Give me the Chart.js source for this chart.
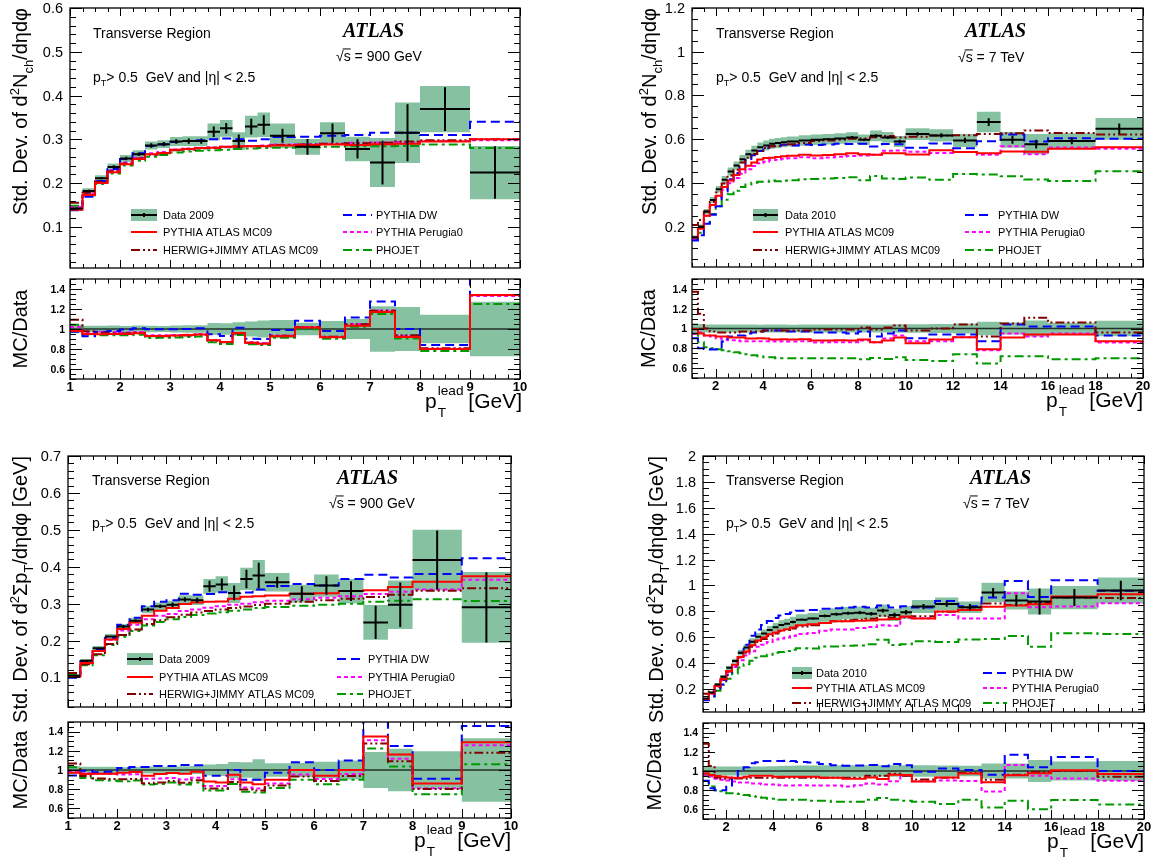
<!DOCTYPE html>
<html>
<head>
<meta charset="utf-8">
<script src="https://cdn.jsdelivr.net/npm/chart.js@4.4.0/dist/chart.umd.min.js"></script>
<style>
html, body { margin: 0; padding: 0; background: #fff; }
#wrap { position: relative; width: 1155px; height: 865px; overflow: hidden; background: #fff; }
#wrap canvas { position: absolute; left: 0; top: 0; }
</style>
</head>
<body>
<div id="wrap"></div>
<script>
// ---------- Bin edges (p_T lead, GeV) ----------
const edges900 = [1,1.25,1.5,1.75,2,2.25,2.5,2.75,3,3.25,3.5,3.75,4,4.25,4.5,4.75,5,5.5,6,6.5,7,7.5,8,9,10];
const edges7 = [1,1.25,1.5,1.75,2,2.25,2.5,2.75,3,3.25,3.5,3.75,4,4.25,4.5,4.75,5,5.5,6,6.5,7,7.5,8,8.5,9,9.5,10,11,12,13,14,15,16,18,20];

// ---------- Nch, 900 GeV (top left) ----------
const nch900Data = [0.142,0.182,0.211,0.237,0.256,0.266,0.286,0.289,0.295,0.296,0.296,0.317,0.325,0.296,0.329,0.333,0.308,0.283,0.314,0.278,0.247,0.315,0.369,0.224];
const nch900Tot = [0.006,0.006,0.007,0.008,0.008,0.009,0.009,0.009,0.01,0.011,0.011,0.019,0.019,0.02,0.025,0.028,0.028,0.018,0.025,0.028,0.056,0.069,0.053,0.061];
const nch900Stat = [0.003,0.003,0.003,0.004,0.004,0.004,0.005,0.005,0.005,0.006,0.006,0.012,0.012,0.015,0.018,0.022,0.016,0.018,0.022,0.022,0.05,0.065,0.05,0.06];
const nch900MC09 = [0.139,0.173,0.200,0.225,0.243,0.255,0.266,0.269,0.276,0.278,0.280,0.281,0.283,0.284,0.284,0.284,0.286,0.287,0.288,0.287,0.289,0.290,0.295,0.300];
const nch900Herwig = [0.155,0.178,0.203,0.227,0.245,0.256,0.265,0.268,0.275,0.277,0.279,0.280,0.282,0.283,0.284,0.285,0.287,0.288,0.290,0.291,0.292,0.295,0.298,0.300];
const nch900DW = [0.138,0.169,0.205,0.232,0.255,0.268,0.285,0.288,0.294,0.296,0.298,0.300,0.302,0.300,0.297,0.300,0.305,0.306,0.308,0.310,0.315,0.315,0.310,0.340];
const nch900Perugia0 = [0.145,0.176,0.205,0.230,0.247,0.258,0.268,0.271,0.277,0.279,0.281,0.282,0.283,0.284,0.285,0.286,0.288,0.289,0.290,0.292,0.293,0.294,0.296,0.298];
const nch900Phojet = [0.148,0.172,0.198,0.222,0.240,0.251,0.260,0.264,0.270,0.272,0.274,0.275,0.276,0.278,0.279,0.280,0.281,0.282,0.283,0.284,0.284,0.285,0.288,0.280];

// ---------- Nch, 7 TeV (top right) ----------
const nch7Data = [0.151,0.200,0.269,0.322,0.371,0.414,0.452,0.479,0.508,0.531,0.548,0.563,0.571,0.579,0.582,0.586,0.589,0.594,0.597,0.600,0.603,0.608,0.597,0.615,0.608,0.589,0.623,0.617,0.594,0.678,0.597,0.577,0.592,0.647];
const nch7Tot = [0.008,0.009,0.011,0.013,0.015,0.017,0.018,0.019,0.02,0.021,0.022,0.022,0.023,0.023,0.023,0.023,0.023,0.024,0.024,0.024,0.024,0.024,0.024,0.025,0.025,0.025,0.027,0.028,0.03,0.047,0.036,0.046,0.035,0.05];
const nch7Stat = [0.002,0.002,0.002,0.002,0.002,0.002,0.002,0.003,0.003,0.003,0.003,0.003,0.003,0.004,0.004,0.004,0.004,0.004,0.005,0.005,0.005,0.006,0.006,0.007,0.007,0.008,0.008,0.01,0.012,0.018,0.018,0.02,0.015,0.025];
const nch7MC09 = [0.150,0.190,0.250,0.299,0.341,0.381,0.411,0.436,0.462,0.478,0.493,0.507,0.514,0.515,0.518,0.522,0.524,0.529,0.525,0.528,0.531,0.535,0.531,0.529,0.535,0.536,0.530,0.549,0.541,0.536,0.543,0.542,0.556,0.563];
const nch7Herwig = [0.207,0.230,0.269,0.312,0.356,0.397,0.434,0.460,0.493,0.515,0.532,0.546,0.560,0.567,0.570,0.574,0.577,0.582,0.591,0.594,0.597,0.602,0.603,0.609,0.614,0.607,0.611,0.617,0.618,0.624,0.627,0.640,0.628,0.621];
const nch7DW = [0.136,0.160,0.213,0.254,0.293,0.360,0.416,0.445,0.472,0.504,0.526,0.546,0.560,0.567,0.570,0.574,0.571,0.576,0.573,0.576,0.579,0.578,0.579,0.566,0.578,0.577,0.561,0.580,0.558,0.590,0.621,0.589,0.604,0.602];
const nch7Perugia0 = [0.143,0.192,0.250,0.296,0.334,0.368,0.398,0.422,0.442,0.462,0.477,0.490,0.497,0.504,0.506,0.510,0.512,0.517,0.513,0.516,0.519,0.523,0.525,0.529,0.547,0.548,0.542,0.537,0.541,0.529,0.567,0.531,0.562,0.556];
const nch7Phojet = [0.143,0.172,0.218,0.258,0.293,0.323,0.348,0.364,0.381,0.393,0.400,0.405,0.405,0.411,0.407,0.410,0.412,0.416,0.418,0.420,0.422,0.426,0.412,0.431,0.420,0.418,0.424,0.414,0.440,0.438,0.430,0.415,0.408,0.453];

// ---------- Sum pT, 900 GeV (bottom left) ----------
const sum900Data = [0.105,0.145,0.179,0.211,0.238,0.254,0.284,0.293,0.297,0.311,0.309,0.347,0.352,0.329,0.367,0.376,0.358,0.327,0.349,0.334,0.249,0.297,0.418,0.290];
const sum900Tot = [0.004,0.005,0.006,0.007,0.007,0.008,0.01,0.01,0.011,0.012,0.013,0.02,0.022,0.027,0.03,0.042,0.025,0.024,0.03,0.033,0.047,0.066,0.082,0.096];
const sum900Stat = [0.002,0.003,0.003,0.003,0.004,0.004,0.005,0.005,0.006,0.006,0.007,0.015,0.016,0.02,0.025,0.035,0.015,0.02,0.025,0.027,0.045,0.06,0.08,0.095];
const sum900MC09 = [0.102,0.139,0.172,0.203,0.231,0.249,0.267,0.281,0.288,0.299,0.303,0.305,0.306,0.313,0.319,0.320,0.322,0.327,0.328,0.334,0.336,0.345,0.359,0.374];
const sum900Herwig = [0.112,0.136,0.163,0.191,0.215,0.230,0.245,0.255,0.263,0.270,0.276,0.280,0.284,0.288,0.292,0.296,0.300,0.305,0.309,0.313,0.318,0.324,0.335,0.342];
const sum900DW = [0.099,0.144,0.175,0.207,0.243,0.262,0.293,0.305,0.309,0.327,0.324,0.326,0.331,0.329,0.330,0.338,0.348,0.353,0.349,0.367,0.378,0.371,0.380,0.423];
const sum900Perugia0 = [0.103,0.140,0.172,0.202,0.227,0.243,0.258,0.267,0.272,0.280,0.284,0.289,0.293,0.297,0.300,0.304,0.308,0.312,0.316,0.320,0.326,0.332,0.338,0.365];
const sum900Phojet = [0.108,0.133,0.160,0.188,0.210,0.226,0.241,0.250,0.258,0.264,0.269,0.273,0.277,0.281,0.284,0.288,0.291,0.294,0.297,0.300,0.305,0.308,0.312,0.307];

// ---------- Sum pT, 7 TeV (bottom right) ----------
const sum7Data = [0.127,0.173,0.235,0.295,0.364,0.416,0.481,0.522,0.566,0.605,0.630,0.656,0.677,0.695,0.705,0.718,0.736,0.745,0.765,0.778,0.786,0.790,0.782,0.806,0.773,0.793,0.837,0.858,0.832,0.946,0.884,0.876,0.907,0.961];
const sum7Tot = [0.006,0.008,0.011,0.014,0.017,0.019,0.022,0.024,0.026,0.028,0.03,0.032,0.034,0.036,0.038,0.04,0.042,0.043,0.045,0.046,0.047,0.048,0.047,0.048,0.047,0.048,0.05,0.05,0.045,0.075,0.07,0.1,0.09,0.1];
const sum7Stat = [0.003,0.003,0.004,0.004,0.005,0.005,0.005,0.006,0.006,0.006,0.007,0.007,0.007,0.008,0.008,0.009,0.009,0.01,0.01,0.011,0.012,0.013,0.014,0.015,0.016,0.017,0.02,0.022,0.025,0.035,0.045,0.1,0.065,0.075];
const sum7MC09 = [0.124,0.166,0.223,0.277,0.339,0.387,0.447,0.491,0.538,0.575,0.599,0.623,0.636,0.653,0.663,0.675,0.692,0.700,0.711,0.724,0.723,0.727,0.730,0.738,0.742,0.760,0.745,0.800,0.810,0.835,0.845,0.855,0.915,0.932];
const sum7Herwig = [0.163,0.182,0.219,0.271,0.335,0.383,0.443,0.480,0.526,0.563,0.586,0.610,0.630,0.646,0.656,0.668,0.684,0.693,0.711,0.724,0.731,0.735,0.743,0.766,0.750,0.753,0.762,0.798,0.815,0.861,0.849,0.867,0.907,0.903];
const sum7DW = [0.114,0.142,0.188,0.236,0.309,0.387,0.481,0.543,0.611,0.660,0.695,0.725,0.748,0.768,0.780,0.792,0.805,0.810,0.820,0.825,0.830,0.835,0.830,0.845,0.830,0.840,0.830,0.880,0.840,0.908,1.034,0.911,1.040,0.960];
const sum7Perugia0 = [0.121,0.163,0.216,0.268,0.328,0.370,0.423,0.459,0.492,0.526,0.542,0.564,0.582,0.591,0.599,0.610,0.626,0.633,0.650,0.661,0.660,0.672,0.680,0.693,0.690,0.755,0.747,0.772,0.745,0.745,0.940,0.832,0.837,0.863];
const sum7Phojet = [0.122,0.145,0.188,0.233,0.280,0.320,0.366,0.392,0.419,0.442,0.454,0.466,0.481,0.487,0.494,0.503,0.515,0.514,0.528,0.529,0.534,0.537,0.547,0.580,0.541,0.547,0.569,0.563,0.582,0.587,0.610,0.526,0.632,0.625];

// ---------- Tick labels ----------
const xTicks900 = [1,2,3,4,5,6,7,8,9,10];
const xTicks7 = [2,4,6,8,10,12,14,16,18,20];
const yTicksNch900 = [0.1,0.2,0.3,0.4,0.5,0.6];
const yTicksNch7 = [0.2,0.4,0.6,0.8,1,1.2];
const yTicksSum900 = [0.1,0.2,0.3,0.4,0.5,0.6,0.7];
const yTicksSum7 = [0.2,0.4,0.6,0.8,1,1.2,1.4,1.6,1.8,2];
const yTicksRatio = [0.6,0.8,1,1.2,1.4];

// ---------- Styles ----------
const W = 1155, H = 865;
const SANS = '"Liberation Sans", Arial, Helvetica, sans-serif';
const SERIF = '"Liberation Serif", "Times New Roman", serif';
const BAND = 'rgb(134,194,161)';
const styles = {
    MC09: { label: 'PYTHIA ATLAS MC09', color: '#ff0000', dash: [], order: 2 },
    Herwig: { label: 'HERWIG+JIMMY ATLAS MC09', color: '#800000', dash: [9, 3, 2, 3, 2, 3], order: 3 },
    DW: { label: 'PYTHIA DW', color: '#0000ff', dash: [9, 5], order: 4 },
    Perugia0: { label: 'PYTHIA Perugia0', color: '#ff00ff', dash: [4, 3], order: 5 },
    Phojet: { label: 'PHOJET', color: '#009900', dash: [9, 4, 3, 4], order: 6 }
};

const nchTitle = [{ t: 'Std. Dev. of d' }, { t: '2', sup: true }, { t: 'N' }, { t: 'ch', sub: true }, { t: '/d\u03B7d\u03C6' }];
const sumTitle = [{ t: 'Std. Dev. of d' }, { t: '2', sup: true }, { t: '\u03A3p' }, { t: 'T', sub: true }, { t: '/d\u03B7d\u03C6 [GeV]' }];
const ptCut = [{ t: 'p' }, { t: 'T', sub: true }, { t: '> 0.5  GeV and |\u03B7| < 2.5' }];
const xTitle = [{ t: 'p' }, { ss: ['lead', 'T'] }, { t: ' [GeV]' }];
const sqrtS = (e) => [{ t: '\u221A' }, { t: 's', over: true }, { t: ' = ' + e }];

// ---------- Panels ----------
const panels = [
    {
        edges: edges900, data: nch900Data, tot: nch900Tot, stat: nch900Stat,
        mc: { MC09: nch900MC09, Herwig: nch900Herwig, DW: nch900DW, Perugia0: nch900Perugia0, Phojet: nch900Phojet },
        x: { min: 1, max: 10, minor: 0.25, major: 1, labels: xTicks900 },
        main: { frame: [70, 8, 520, 268], min: 0.006, max: 0.6, minor: 0.02, major: 0.1, labels: yTicksNch900 },
        ratio: { frame: [70, 279, 520, 379] }, xTitleShift: 2,
        title: nchTitle, titleX: 27, mcX: 27,
        txt: { trX: 93, trY: 38, atX: 343, atY: 37, sqX: 336, sqY: 61, energy: '900 GeV', cutY: 82 },
        legend: { rows: [215, 232, 250], cols: [{ x0: 131, x1: 157, tx: 163 }, { x0: 343, x1: 372, tx: 376 }], dataLabel: 'Data 2009' }
    },
    {
        edges: edges7, data: nch7Data, tot: nch7Tot, stat: nch7Stat,
        mc: { MC09: nch7MC09, Herwig: nch7Herwig, DW: nch7DW, Perugia0: nch7Perugia0, Phojet: nch7Phojet },
        x: { min: 1, max: 20, minor: 0.5, major: 2, labels: xTicks7 },
        main: { frame: [692, 8, 1143, 267], min: 0.015, max: 1.2, minor: 0.05, major: 0.2, labels: yTicksNch7 },
        ratio: { frame: [692, 279, 1143, 378] }, xTitleShift: 0,
        title: nchTitle, titleX: 656, mcX: 655,
        txt: { trX: 716, trY: 38, atX: 965, atY: 37, sqX: 958, sqY: 62, energy: '7 TeV', cutY: 82 },
        legend: { rows: [215, 232, 250], cols: [{ x0: 753, x1: 778, tx: 785 }, { x0: 965, x1: 993, tx: 998 }], dataLabel: 'Data 2010' }
    },
    {
        edges: edges900, data: sum900Data, tot: sum900Tot, stat: sum900Stat,
        mc: { MC09: sum900MC09, Herwig: sum900Herwig, DW: sum900DW, Perugia0: sum900Perugia0, Phojet: sum900Phojet },
        x: { min: 1, max: 10, minor: 0.25, major: 1, labels: xTicks900 },
        main: { frame: [68, 456, 511, 707], min: 0.02, max: 0.7, minor: 0.02, major: 0.1, labels: yTicksSum900 },
        ratio: { frame: [68, 722, 511, 818] }, xTitleShift: 0,
        title: sumTitle, titleX: 27, mcX: 27,
        txt: { trX: 92, trY: 485, atX: 337, atY: 484, sqX: 329, sqY: 508, energy: '900 GeV', cutY: 528 },
        legend: { rows: [659, 677, 694], cols: [{ x0: 127, x1: 153, tx: 159 }, { x0: 337, x1: 363, tx: 368 }], dataLabel: 'Data 2009' }
    },
    {
        edges: edges7, data: sum7Data, tot: sum7Tot, stat: sum7Stat,
        mc: { MC09: sum7MC09, Herwig: sum7Herwig, DW: sum7DW, Perugia0: sum7Perugia0, Phojet: sum7Phojet },
        x: { min: 1, max: 20, minor: 0.5, major: 2, labels: xTicks7 },
        main: { frame: [703, 456, 1144, 712], min: 0.023, max: 2, minor: 0.05, major: 0.2, labels: yTicksSum7 },
        ratio: { frame: [703, 723, 1144, 819] }, xTitleShift: 0,
        title: sumTitle, titleX: 663, mcX: 661,
        txt: { trX: 726, trY: 485, atX: 970, atY: 484, sqX: 963, sqY: 508, energy: '7 TeV', cutY: 528 },
        legend: { rows: [673, 688, 703], cols: [{ x0: 792, x1: 812, tx: 816 }, { x0: 983, x1: 1007, tx: 1012 }], dataLabel: 'Data 2010' }
    }
];

// ---------- Helpers ----------
function stepPoints(edges, vals) {
    const pts = vals.map((v, i) => ({ x: edges[i], y: v }));
    pts.push({ x: edges[vals.length], y: vals[vals.length - 1] });
    return pts;
}

function crossPoints(edges, vals, err) {
    const pts = [];
    vals.forEach((v, i) => {
        const lo = edges[i], hi = edges[i + 1], mid = (lo + hi) / 2;
        pts.push({ x: lo, y: v }, { x: hi, y: v }, { x: mid, y: null },
            { x: mid, y: v - err[i] }, { x: mid, y: v + err[i] }, { x: mid, y: null });
    });
    return pts;
}

function stepDs(points, color, width, dash, order, extra) {
    return Object.assign({
        data: points, borderColor: color, borderWidth: width, borderDash: dash,
        stepped: 'before', pointRadius: 0, fill: false, order
    }, extra || {});
}

function fontStr(size, o) {
    return (o.italic ? 'italic ' : '') + (o.bold ? 'bold ' : '') + size + 'px ' + (o.fam || SANS);
}

function drawRich(ctx, t) {
    const size = t.size;
    ctx.save();
    ctx.translate(t.x, t.y);
    if (t.rot) ctx.rotate(t.rot);
    ctx.fillStyle = '#000';
    ctx.strokeStyle = '#000';
    ctx.textAlign = 'left';
    ctx.textBaseline = 'alphabetic';
    const widths = t.segs.map(s => {
        if (s.ss) {
            ctx.font = fontStr(size * 0.65, t);
            return Math.max(ctx.measureText(s.ss[0]).width, ctx.measureText(s.ss[1]).width);
        }
        ctx.font = fontStr((s.sup || s.sub) ? size * 0.65 : size, t);
        return ctx.measureText(s.t).width;
    });
    const total = widths.reduce((a, b) => a + b, 0);
    let cx = t.align === 'right' ? -total : t.align === 'center' ? -total / 2 : 0;
    t.segs.forEach((s, i) => {
        if (s.ss) {
            ctx.font = fontStr(size * 0.65, t);
            ctx.fillText(s.ss[0], cx + 1, -size * 0.62);
            ctx.fillText(s.ss[1], cx + 1, size * 0.45);
        } else {
            ctx.font = fontStr((s.sup || s.sub) ? size * 0.65 : size, t);
            const dy = s.sup ? -size * 0.42 : s.sub ? size * 0.3 : 0;
            ctx.fillText(s.t, cx, dy);
            if (s.over) {
                ctx.lineWidth = 1;
                ctx.beginPath();
                ctx.moveTo(cx - 1, -size * 0.86);
                ctx.lineTo(cx + widths[i], -size * 0.86);
                ctx.stroke();
            }
        }
        cx += widths[i];
    });
    ctx.restore();
}

function eachTick(min, max, minor, major, fn) {
    const k0 = Math.ceil(min / minor - 1e-6), k1 = Math.floor(max / minor + 1e-6);
    for (let k = k0; k <= k1; k++) {
        const v = k * minor;
        fn(v, Math.abs(v / major - Math.round(v / major)) < 1e-6);
    }
}

const fmt = (v) => String(Math.round(v * 100) / 100);

// ---------- Frame / ticks / text plugin (ROOT look) ----------
function framePlugin(cfg) {
    return {
        id: 'rootFrame',
        afterDraw(chart) {
            const ctx = chart.ctx, a = chart.chartArea;
            const xs = chart.scales.x, ys = chart.scales.y;
            ctx.save();
            ctx.strokeStyle = '#000';
            ctx.lineWidth = 1;
            ctx.setLineDash([]);
            ctx.beginPath();
            eachTick(xs.min, xs.max, cfg.xMinor, cfg.xMajor, (v, major) => {
                const px = Math.round(xs.getPixelForValue(v)) + 0.5;
                const L = major ? cfg.xTick : cfg.xTick / 2;
                ctx.moveTo(px, a.bottom); ctx.lineTo(px, a.bottom - L);
                ctx.moveTo(px, a.top); ctx.lineTo(px, a.top + L);
            });
            eachTick(ys.min, ys.max, cfg.yMinor, cfg.yMajor, (v, major) => {
                const py = Math.round(ys.getPixelForValue(v)) + 0.5;
                const L = major ? cfg.yTick : cfg.yTick / 2;
                ctx.moveTo(a.left, py); ctx.lineTo(a.left + L, py);
                ctx.moveTo(a.right, py); ctx.lineTo(a.right - L, py);
            });
            ctx.stroke();
            ctx.lineWidth = 1.3;
            ctx.strokeRect(a.left, a.top, a.right - a.left, a.bottom - a.top);

            ctx.fillStyle = '#000';
            ctx.font = cfg.yFont;
            ctx.textAlign = 'right';
            ctx.textBaseline = 'middle';
            cfg.yLabels.forEach(v => ctx.fillText(fmt(v), a.left - cfg.yGap, ys.getPixelForValue(v) + 1));
            if (cfg.xLabels) {
                ctx.font = 'bold 13px ' + SANS;
                ctx.textAlign = 'center';
                ctx.textBaseline = 'top';
                cfg.xLabels.forEach(v => ctx.fillText(fmt(v), xs.getPixelForValue(v), a.bottom + 2));
            }
            (cfg.texts || []).forEach(t => drawRich(ctx, t));
            if (cfg.legend) drawLegend(ctx, cfg.legend);
            ctx.restore();
        }
    };
}

function drawLegend(ctx, L) {
    const entries = [
        { col: 0, row: 0, key: 'data', label: L.dataLabel },
        { col: 0, row: 1, key: 'MC09' },
        { col: 0, row: 2, key: 'Herwig' },
        { col: 1, row: 0, key: 'DW' },
        { col: 1, row: 1, key: 'Perugia0' },
        { col: 1, row: 2, key: 'Phojet' }
    ];
    entries.forEach(e => {
        const c = L.cols[e.col], y = L.rows[e.row];
        ctx.setLineDash([]);
        if (e.key === 'data') {
            ctx.fillStyle = BAND;
            ctx.fillRect(c.x0, y - 6, c.x1 - c.x0, 12);
            ctx.strokeStyle = '#000';
            ctx.lineWidth = 2;
            ctx.beginPath();
            ctx.moveTo(c.x0, y); ctx.lineTo(c.x1, y);
            ctx.moveTo((c.x0 + c.x1) / 2, y - 2); ctx.lineTo((c.x0 + c.x1) / 2, y + 2);
            ctx.stroke();
        } else {
            const st = styles[e.key];
            ctx.strokeStyle = st.color;
            ctx.lineWidth = 2;
            ctx.setLineDash(st.dash);
            ctx.beginPath();
            ctx.moveTo(c.x0, y); ctx.lineTo(c.x1, y);
            ctx.stroke();
            ctx.setLineDash([]);
        }
        ctx.fillStyle = '#000';
        ctx.font = '11px ' + SANS;
        ctx.textAlign = 'left';
        ctx.textBaseline = 'middle';
        ctx.fillText(e.label || styles[e.key].label, c.tx, y + 0.5);
    });
}

function makeCanvas() {
    const c = document.createElement('canvas');
    c.width = W; c.height = H;
    c.style.width = W + 'px'; c.style.height = H + 'px';
    document.getElementById('wrap').appendChild(c);
    return c;
}

function baseOptions(frame, x, ymin, ymax) {
    return {
        responsive: false, animation: false, devicePixelRatio: 1, events: [],
        layout: { padding: { left: frame[0], top: frame[1], right: W - frame[2], bottom: H - frame[3] } },
        scales: {
            x: { type: 'linear', min: x.min, max: x.max, display: false },
            y: { type: 'linear', min: ymin, max: ymax, display: false }
        },
        plugins: { legend: { display: false }, tooltip: { enabled: false } }
    };
}

// ---------- Build charts ----------
panels.forEach(p => {
    const keys = ['Phojet', 'Perugia0', 'DW', 'Herwig', 'MC09'];
    const none = 'rgba(0,0,0,0)';

    // main pad
    const lo = p.data.map((v, i) => v - p.tot[i]);
    const hi = p.data.map((v, i) => v + p.tot[i]);
    const mainSets = [
        stepDs(stepPoints(p.edges, lo), none, 0, [], 10),
        stepDs(stepPoints(p.edges, hi), none, 0, [], 9, { fill: '-1', backgroundColor: BAND })
    ];
    keys.forEach(k => mainSets.push(stepDs(stepPoints(p.edges, p.mc[k]), styles[k].color, 2, styles[k].dash, styles[k].order)));
    mainSets.push({
        data: crossPoints(p.edges, p.data, p.stat), borderColor: '#000', borderWidth: 2,
        pointRadius: 0, fill: false, spanGaps: false, order: 0
    });
    const f = p.main.frame;
    new Chart(makeCanvas(), {
        type: 'line',
        data: { datasets: mainSets },
        options: baseOptions(f, p.x, p.main.min, p.main.max),
        plugins: [framePlugin({
            xMinor: p.x.minor, xMajor: p.x.major, xTick: 8,
            yMinor: p.main.minor, yMajor: p.main.major, yTick: 12,
            yLabels: p.main.labels, yFont: '14.5px ' + SANS, yGap: 7,
            texts: [
                { segs: p.title, x: p.titleX, y: f[1], size: 20, align: 'right', rot: -Math.PI / 2 },
                { segs: [{ t: 'Transverse Region' }], x: p.txt.trX, y: p.txt.trY, size: 14 },
                { segs: [{ t: 'ATLAS' }], x: p.txt.atX, y: p.txt.atY, size: 20, fam: SERIF, bold: true, italic: true },
                { segs: sqrtS(p.txt.energy), x: p.txt.sqX, y: p.txt.sqY, size: 14 },
                { segs: ptCut, x: p.txt.trX, y: p.txt.cutY, size: 14 }
            ],
            legend: p.legend
        })]
    });

    // ratio pad
    const rlo = p.data.map((v, i) => 1 - p.tot[i] / v);
    const rhi = p.data.map((v, i) => 1 + p.tot[i] / v);
    const ratioSets = [
        stepDs(stepPoints(p.edges, rlo), none, 0, [], 10),
        stepDs(stepPoints(p.edges, rhi), none, 0, [], 9, { fill: '-1', backgroundColor: BAND }),
        { data: [{ x: p.x.min, y: 1 }, { x: p.x.max, y: 1 }], borderColor: 'rgba(0,0,0,0.75)', borderWidth: 1.5, pointRadius: 0, fill: false, order: 8 }
    ];
    keys.forEach(k => {
        const r = p.mc[k].map((v, i) => v / p.data[i]);
        ratioSets.push(stepDs(stepPoints(p.edges, r), styles[k].color, 2, styles[k].dash, styles[k].order));
    });
    const rf = p.ratio.frame;
    new Chart(makeCanvas(), {
        type: 'line',
        data: { datasets: ratioSets },
        options: baseOptions(rf, p.x, 0.5, 1.5),
        plugins: [framePlugin({
            xMinor: p.x.minor, xMajor: p.x.major, xTick: 9,
            yMinor: 0.05, yMajor: 0.2, yTick: 12,
            yLabels: yTicksRatio, yFont: 'bold 10.5px ' + SANS, yGap: 5,
            xLabels: p.x.labels,
            texts: [
                { segs: [{ t: 'MC/Data' }], x: p.mcX, y: (rf[1] + rf[3]) / 2, size: 20, align: 'center', rot: -Math.PI / 2 },
                { segs: xTitle, x: rf[2] + p.xTitleShift, y: rf[3] + 29, size: 21, align: 'right' }
            ]
        })]
    });
});
</script>
</body>
</html>
